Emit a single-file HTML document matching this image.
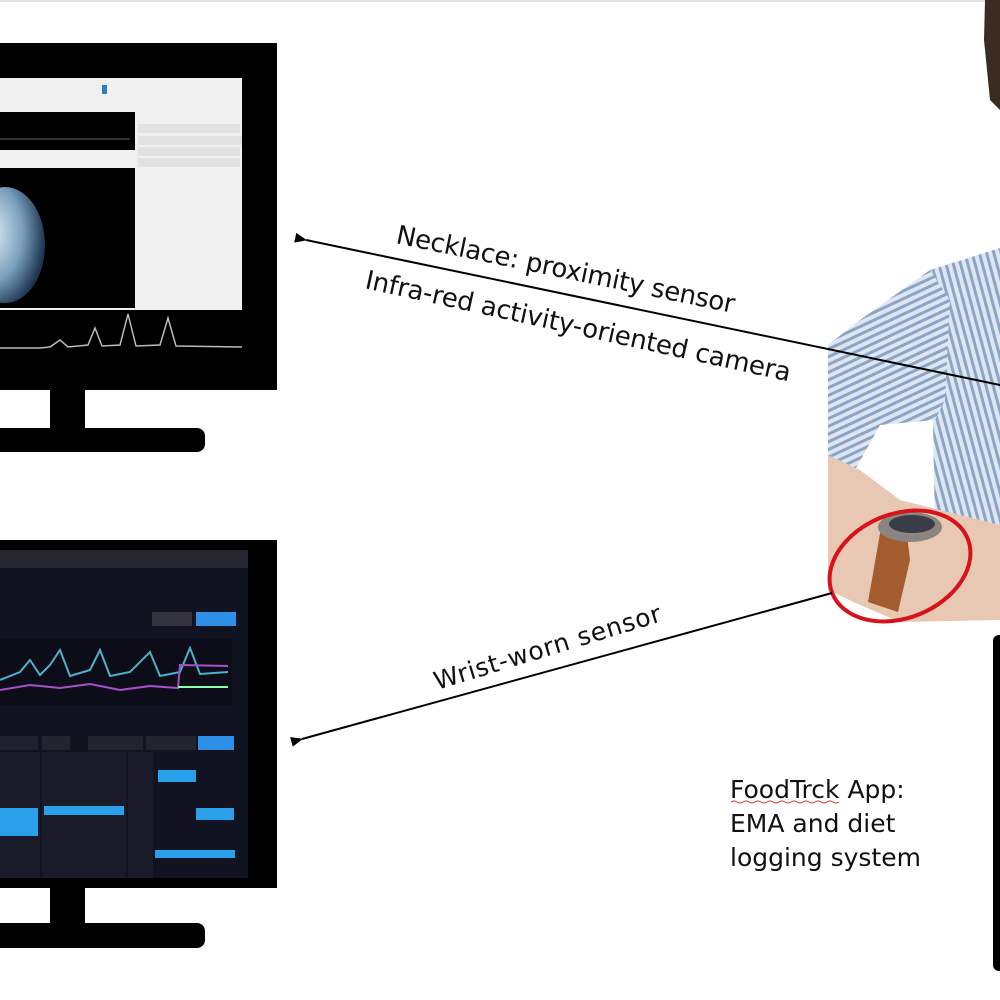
<!DOCTYPE html>
<html><head><meta charset="utf-8"><style>
html,body{margin:0;padding:0;background:#fff;}
svg{display:block}
text{font-family:"DejaVu Sans","Liberation Sans",sans-serif;fill:#111}
</style></head><body>
<svg width="1000" height="1000" viewBox="0 0 1000 1000" xmlns="http://www.w3.org/2000/svg">
<defs>
<pattern id="stripes" width="7" height="7" patternUnits="userSpaceOnUse" patternTransform="rotate(-25)">
<rect width="7" height="7" fill="#dde6f1"/><rect width="7" height="3" fill="#8ba5c6"/>
</pattern>
<pattern id="stripes2" width="7" height="7" patternUnits="userSpaceOnUse" patternTransform="rotate(75)">
<rect width="7" height="7" fill="#dde6f1"/><rect width="7" height="3" fill="#8ba5c6"/>
</pattern>
<marker id="ah" markerWidth="12" markerHeight="10" refX="1" refY="5" orient="auto" markerUnits="userSpaceOnUse">
<path d="M12,0 L0,5 L12,10 z" fill="#000"/>
</marker>
<radialGradient id="globe" cx="0.3" cy="0.4" r="0.7"><stop offset="0" stop-color="#e8f2f8"/><stop offset="0.6" stop-color="#7aa0bd"/><stop offset="1" stop-color="#1c3550"/></radialGradient>
</defs>
<rect width="1000" height="1000" fill="#fff"/>
<line x1="0" y1="1" x2="1000" y2="1" stroke="#e4e0ee" stroke-width="2"/>

<!-- Monitor 1 -->
<rect x="-10" y="43" width="287" height="347" fill="#000"/>
<rect x="0" y="78" width="242" height="232" fill="#f0f0f0"/>
<rect x="102" y="85" width="5" height="9" fill="#2a7fc0"/>
<rect x="0" y="112" width="135" height="38" fill="#000"/>
<line x1="0" y1="139" x2="130" y2="139" stroke="#666" stroke-width="1"/>
<rect x="0" y="168" width="135" height="140" fill="#000"/>
<ellipse cx="5" cy="245" rx="40" ry="58" fill="url(#globe)"/>
<rect x="138" y="124" width="102" height="9" fill="#e2e2e2"/>
<rect x="138" y="136" width="104" height="9" fill="#e2e2e2"/>
<rect x="138" y="147" width="102" height="9" fill="#e2e2e2"/>
<rect x="138" y="158" width="102" height="9" fill="#e2e2e2"/>
<polyline points="0,348 40,348 50,347 60,340 68,347 88,345 95,328 102,346 120,345 128,314 136,346 160,345 168,318 176,346 242,347" fill="none" stroke="#bbb" stroke-width="1.5"/>
<rect x="50" y="388" width="35" height="42" fill="#000"/>
<rect x="-10" y="428" width="215" height="24" rx="8" fill="#000"/>

<!-- Monitor 2 -->
<rect x="-10" y="540" width="287" height="348" fill="#000"/>
<rect x="0" y="550" width="248" height="328" fill="#121320"/>
<rect x="0" y="550" width="248" height="18" fill="#26272f"/>
<rect x="152" y="612" width="40" height="14" fill="#33343f"/>
<rect x="196" y="612" width="40" height="14" fill="#2d8fe6"/>
<rect x="0" y="638" width="232" height="68" fill="#0c0d18"/>
<polyline points="0,680 20,672 30,660 40,675 50,665 60,650 70,676 90,670 100,650 110,676 130,672 150,652 160,676 180,672 190,648 200,674 228,672" fill="none" stroke="#4fb1c9" stroke-width="2"/>
<polyline points="0,690 30,685 60,688 90,684 120,690 150,686 178,688 180,665 228,666" fill="none" stroke="#a84fc9" stroke-width="2"/>
<rect x="178" y="686" width="50" height="2" fill="#8fa"/>
<rect x="0" y="736" width="38" height="14" fill="#1f2030"/>
<rect x="42" y="736" width="28" height="14" fill="#23242f"/>
<rect x="88" y="736" width="55" height="14" fill="#23242f"/>
<rect x="146" y="736" width="50" height="14" fill="#23242f"/>
<rect x="198" y="736" width="36" height="14" fill="#2d8fe6"/>
<rect x="0" y="752" width="40" height="126" fill="#1a1b28"/>
<rect x="42" y="752" width="84" height="126" fill="#1a1b28"/>
<rect x="128" y="752" width="25" height="126" fill="#1a1b28"/>
<rect x="0" y="808" width="38" height="28" fill="#2aa0ea"/>
<rect x="44" y="806" width="80" height="9" fill="#2aa0ea"/>
<rect x="158" y="770" width="38" height="12" fill="#2aa0ea"/>
<rect x="196" y="808" width="38" height="12" fill="#2aa0ea"/>
<rect x="155" y="850" width="80" height="8" fill="#2aa0ea"/>
<rect x="50" y="886" width="35" height="40" fill="#000"/>
<rect x="-10" y="923" width="215" height="25" rx="8" fill="#000"/>

<!-- Person -->
<!-- torso -->
<path d="M930,270 L1000,248 L1000,535 L935,525 Z" fill="url(#stripes2)"/>
<!-- sleeve -->
<path d="M860,320 L930,270 L950,300 L945,400 L935,420 L880,425 L855,470 L828,460 L828,345 Z" fill="url(#stripes)"/>
<!-- forearm -->
<path d="M828,455 L860,470 L900,500 L1000,525 L1000,620 L900,622 L860,605 L828,590 Z" fill="#e8c8b2"/>
<path d="M882,522 L905,518 L910,560 L898,612 L868,602 Z" fill="#a25c2e"/>
<ellipse cx="910" cy="527" rx="32" ry="15" fill="#8a8580"/>
<ellipse cx="912" cy="524" rx="23" ry="9" fill="#3a3d45"/>
<path d="M985,0 L1000,0 L1000,110 L990,100 L984,40 Z" fill="#3b2b20"/>
<ellipse cx="900" cy="566" rx="73" ry="52" transform="rotate(-22 900 566)" fill="none" stroke="#d8121a" stroke-width="4"/>

<!-- Phone -->
<rect x="993" y="635" width="20" height="336" rx="6" fill="#000"/>

<!-- Arrows -->
<line x1="1000" y1="385" x2="306" y2="240" stroke="#000" stroke-width="2" marker-end="url(#ah)"/>
<line x1="832" y1="593" x2="302" y2="739" stroke="#000" stroke-width="2" marker-end="url(#ah)"/>

<text x="395" y="243" font-size="26" transform="rotate(11.7 395 243)" textLength="345">Necklace: proximity sensor</text>
<text x="364" y="288" font-size="26" transform="rotate(12.4 364 288)" textLength="435">Infra-red activity-oriented camera</text>
<text x="437" y="690" font-size="25" transform="rotate(-17 437 690)" textLength="236">Wrist-worn sensor</text>

<text x="730" y="798" font-size="25">FoodTrck App:</text>
<path d="M731,802 q3,-2 6,0 t6,0 t6,0 t6,0 t6,0 t6,0 t6,0 t6,0 t6,0 t6,0 t6,0 t6,0 t6,0 t6,0 t6,0 t6,0 t6,0 t6,0" fill="none" stroke="#d33" stroke-width="1"/>
<text x="730" y="832" font-size="25">EMA and diet</text>
<text x="730" y="866" font-size="25">logging system</text>
</svg>
</body></html>
